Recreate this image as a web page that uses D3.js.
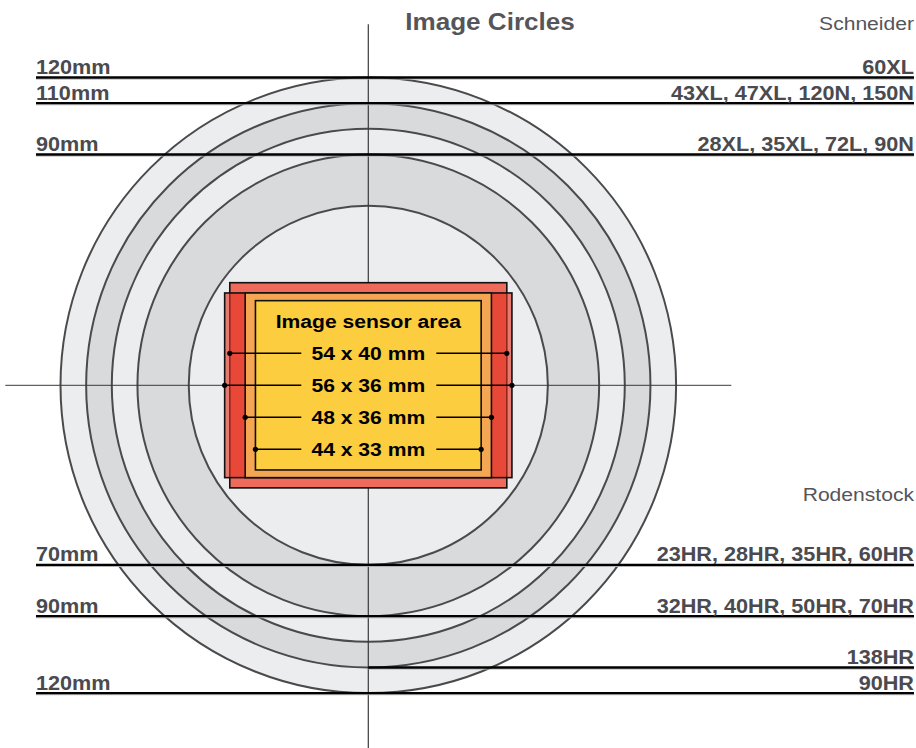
<!DOCTYPE html>
<html>
<head>
<meta charset="utf-8">
<script src="https://cdn.jsdelivr.net/npm/d3@7"></script>
<style>
  html, body { margin: 0; padding: 0; background: #fff; }
  svg { display: block; }
  text { font-family: "Liberation Sans", Arial, Helvetica, sans-serif; }
</style>
</head>
<body>
<div id="chart"></div>
<script>
// ---- data ----
const circleDiameters = [120, 110, 100, 90, 70];          // mm image circles
const schneiderDiameters = [120, 110, 90];
const schneiderMm = ["120mm", "110mm", "90mm"];
const schneiderLenses = ["60XL", "43XL, 47XL, 120N, 150N", "28XL, 35XL, 72L, 90N"];
const rodenstockDiameters = [70, 90, 110, 120];
const rodenstockMm = ["70mm", "90mm", "", "120mm"];
const rodenstockLenses = ["23HR, 28HR, 35HR, 60HR", "32HR, 40HR, 50HR, 70HR", "138HR", "90HR"];
const sensorLabels = ["54 x 40 mm", "56 x 36 mm", "48 x 36 mm", "44 x 33 mm"];
const sensorWidths = [54, 56, 48, 44];
const sensorHeights = [40, 36, 36, 33];

// ---- layout ----
const W = 916, H = 748;
const cx = 368.3, cy = 385.3;
const SX = 1.11; // horizontal text stretch
const r = d3.scaleLinear().domain([0, 60]).range([0, 307.8]); // half-size in mm -> px

const svg = d3.select("#chart").append("svg").attr("width", W).attr("height", H);

function stretchText(parent, x, y, str, anchor, size, weight, color) {
  const g = parent.append("g").attr("transform", `translate(${x},${y}) scale(${SX},1)`);
  return g.append("text")
    .attr("text-anchor", anchor)
    .attr("font-size", size)
    .attr("font-weight", weight)
    .attr("fill", color)
    .text(str);
}

// ---- circles ----
const circleFills = ["#ecedef", "#d9dadc", "#ecedef", "#d9dadc", "#ecedef"];
svg.append("g").selectAll("circle")
  .data(circleDiameters)
  .join("circle")
  .attr("cx", cx).attr("cy", cy)
  .attr("r", d => r(d / 2))
  .attr("fill", (d, i) => circleFills[i])
  .attr("stroke", "#4a4a4c")
  .attr("stroke-width", 2);

// ---- crosshair ----
const ext = 363;
svg.append("line").attr("x1", cx - ext).attr("x2", cx + ext).attr("y1", cy).attr("y2", cy)
  .attr("stroke", "#3a3a3a").attr("stroke-width", 1);
svg.append("line").attr("x1", cx).attr("x2", cx).attr("y1", cy - ext + 2).attr("y2", H)
  .attr("stroke", "#3a3a3a").attr("stroke-width", 1.2);

// ---- horizontal marker lines ----
const lx = 36, rx = 914;
const lineG = svg.append("g");
function markerLine(yy, x1) {
  lineG.append("line").attr("x1", x1).attr("x2", rx).attr("y1", yy + 1.6).attr("y2", yy + 1.6)
    .attr("stroke", "#b0b0b0").attr("stroke-width", 1);
  lineG.append("line").attr("x1", x1).attr("x2", rx).attr("y1", yy).attr("y2", yy)
    .attr("stroke", "#000").attr("stroke-width", 2.4);
}
const labelColor = "#4a4a4f";
const labelSize = 19.5;
schneiderDiameters.forEach((d, i) => {
  const yy = cy - r(d / 2);
  markerLine(yy, lx);
  stretchText(svg, lx, yy - 3.5, schneiderMm[i], "start", labelSize, "bold", labelColor);
  stretchText(svg, rx, yy - 3.5, schneiderLenses[i], "end", labelSize, "bold", labelColor);
});
rodenstockDiameters.forEach((d, i) => {
  const yy = cy + r(d / 2);
  markerLine(yy, rodenstockMm[i] ? lx : cx);
  if (rodenstockMm[i]) stretchText(svg, lx, yy - 3.5, rodenstockMm[i], "start", labelSize, "bold", labelColor);
  stretchText(svg, rx, yy - 3.5, rodenstockLenses[i], "end", labelSize, "bold", labelColor);
});

// ---- sensor rectangles ----
const rectFills = ["#ee6b5b", "rgba(228,52,34,0.62)", "#f5a652", "#fccd3e"];
const rg = svg.append("g");
sensorWidths.forEach((w, i) => {
  const hw = r(w / 2), hh = r(sensorHeights[i] / 2);
  rg.append("rect")
    .attr("x", cx - hw).attr("y", cy - hh)
    .attr("width", 2 * hw).attr("height", 2 * hh)
    .attr("fill", rectFills[i])
    .attr("stroke", "#111").attr("stroke-width", 1.6);
});

// ---- sensor labels ----
const rowStep = 32;
stretchText(svg, cx, cy - 2 * rowStep + 6.8, "Image sensor area", "middle", 19, "bold", "#000");
sensorLabels.forEach((lab, i) => {
  const yy = cy + (i - 1) * rowStep;
  const hw = r(sensorWidths[i] / 2);
  stretchText(svg, cx, yy + 6.8, lab, "middle", 19, "bold", "#000");
  svg.append("line").attr("x1", cx - hw).attr("x2", cx - 67).attr("y1", yy).attr("y2", yy)
    .attr("stroke", "#000").attr("stroke-width", 1.4);
  svg.append("line").attr("x1", cx + 68).attr("x2", cx + hw).attr("y1", yy).attr("y2", yy)
    .attr("stroke", "#000").attr("stroke-width", 1.4);
  svg.append("circle").attr("cx", cx - hw).attr("cy", yy).attr("r", 2.6).attr("fill", "#000");
  svg.append("circle").attr("cx", cx + hw).attr("cy", yy).attr("r", 2.6).attr("fill", "#000");
});

// ---- titles ----
stretchText(svg, 490, 30, "Image Circles", "middle", 23.5, "bold", "#555559");
stretchText(svg, rx, 30, "Schneider", "end", 19, "normal", "#555559");
stretchText(svg, rx, 501, "Rodenstock", "end", 19, "normal", "#555559");
</script>
</body>
</html>
